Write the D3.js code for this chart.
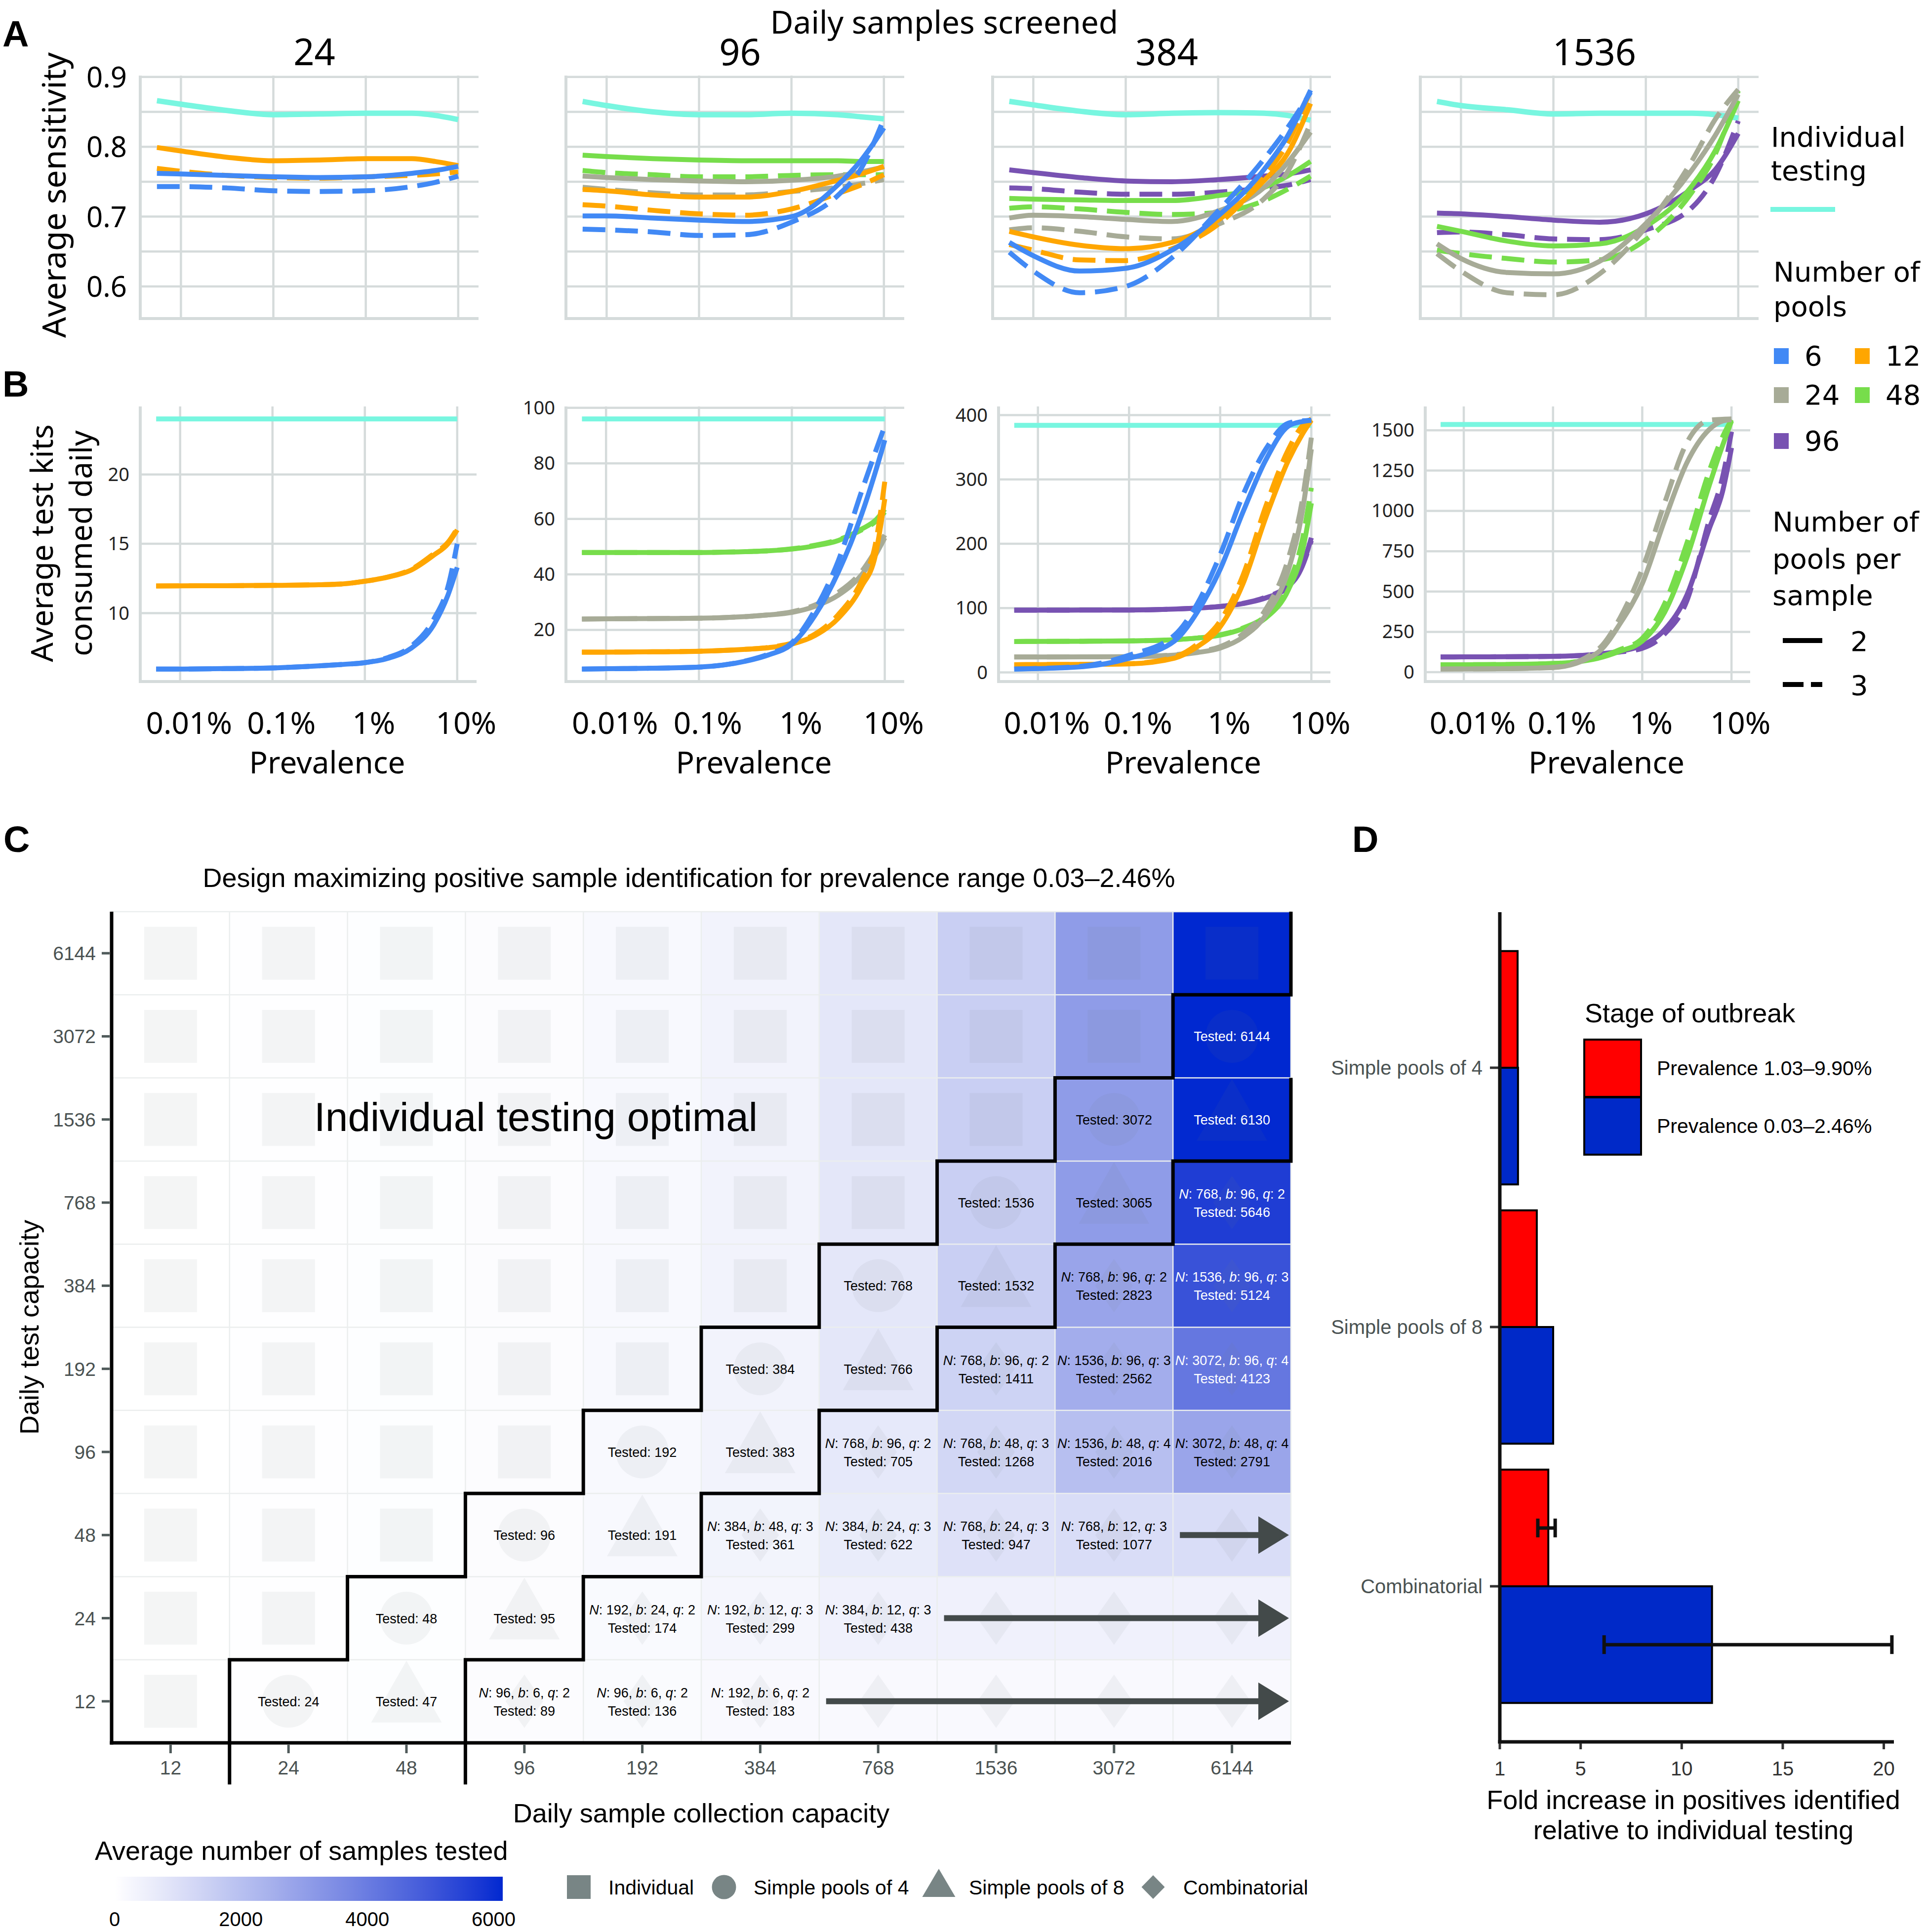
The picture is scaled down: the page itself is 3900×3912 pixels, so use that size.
<!DOCTYPE html>
<html><head><meta charset="utf-8">
<script src="https://cdn.jsdelivr.net/npm/d3@7"></script>
<style>body{margin:0;background:#fff} svg{display:block} text{white-space:pre}</style>
</head><body><svg id="c" width="3900" height="3912"></svg>
<script>
// ---------------- DATA ----------------
// Panel A/B: prevalence (%) sample points where curves were read
const prevA = [0.0055, 0.01, 0.0316, 0.1, 0.316, 1, 3.16, 5.62, 10];
const prevB = [0.0055, 0.01, 0.0316, 0.1, 0.316, 0.562, 1, 1.78, 3.16, 5.62, 7.94, 10];
const samplesScreened = [24, 96, 384, 1536];
const poolCounts = [6, 12, 24, 48, 96];
const poolsPerSample = [2, 3];
const prevTicks = [0.01, 0.1, 1, 10];
const prevTickLabels = ["0.01%", "0.1%", "1%", "10%"];
const sensTicks = [0.6, 0.7, 0.8, 0.9];
const sensMinorTicks = [0.65, 0.75, 0.85];
const kitTicks24 = [10, 15, 20];
const kitTicks96 = [20, 40, 60, 80, 100];
const kitTicks384 = [0, 100, 200, 300, 400];
const kitTicks1536 = [0, 250, 500, 750, 1000, 1250, 1500];

// Average sensitivity (panel A)
const sens24_indiv = [0.866, 0.861, 0.852, 0.846, 0.847, 0.848, 0.848, 0.845, 0.839];
const sens24_p6q2  = [0.762, 0.761, 0.759, 0.757, 0.756, 0.757, 0.762, 0.766, 0.772];
const sens24_p6q3  = [0.743, 0.743, 0.741, 0.737, 0.736, 0.737, 0.743, 0.749, 0.758];
const sens24_p12q2 = [0.799, 0.794, 0.785, 0.780, 0.781, 0.783, 0.783, 0.779, 0.773];
const sens24_p12q3 = [0.769, 0.765, 0.759, 0.756, 0.755, 0.757, 0.759, 0.761, 0.764];

const sens96_indiv = [0.865, 0.859, 0.850, 0.846, 0.846, 0.848, 0.846, 0.843, 0.840];
const sens96_p6q2  = [0.701, 0.701, 0.698, 0.695, 0.693, 0.700, 0.745, 0.780, 0.827];
const sens96_p6q3  = [0.682, 0.681, 0.678, 0.673, 0.674, 0.692, 0.730, 0.768, 0.840];
const sens96_p12q2 = [0.739, 0.737, 0.731, 0.728, 0.728, 0.736, 0.752, 0.761, 0.772];
const sens96_p12q3 = [0.717, 0.715, 0.709, 0.704, 0.702, 0.711, 0.733, 0.745, 0.760];
const sens96_p24q2 = [0.758, 0.756, 0.753, 0.751, 0.750, 0.752, 0.758, 0.764, 0.771];
const sens96_p24q3 = [0.742, 0.739, 0.734, 0.731, 0.731, 0.736, 0.742, 0.747, 0.753];
const sens96_p48q2 = [0.788, 0.786, 0.783, 0.781, 0.780, 0.780, 0.780, 0.779, 0.779];
const sens96_p48q3 = [0.766, 0.763, 0.760, 0.757, 0.757, 0.759, 0.760, 0.760, 0.760];

const sens384_indiv = [0.865, 0.860, 0.851, 0.846, 0.848, 0.849, 0.848, 0.845, 0.838];
const sens384_p6q2  = [0.663, 0.644, 0.622, 0.626, 0.652, 0.701, 0.768, 0.815, 0.881];
const sens384_p6q3  = [0.649, 0.622, 0.591, 0.600, 0.641, 0.708, 0.783, 0.827, 0.878];
const sens384_p12q2 = [0.679, 0.671, 0.659, 0.654, 0.663, 0.695, 0.752, 0.790, 0.862];
const sens384_p12q3 = [0.660, 0.652, 0.638, 0.637, 0.654, 0.689, 0.758, 0.805, 0.881];
const sens384_p24q2 = [0.698, 0.702, 0.700, 0.696, 0.693, 0.708, 0.742, 0.777, 0.821];
const sens384_p24q3 = [0.681, 0.684, 0.679, 0.671, 0.668, 0.689, 0.726, 0.764, 0.834];
const sens384_p48q2 = [0.726, 0.725, 0.724, 0.723, 0.723, 0.730, 0.742, 0.758, 0.779];
const sens384_p48q3 = [0.712, 0.714, 0.711, 0.706, 0.703, 0.706, 0.723, 0.739, 0.758];
const sens384_p96q2 = [0.767, 0.763, 0.756, 0.751, 0.750, 0.753, 0.758, 0.761, 0.767];
const sens384_p96q3 = [0.741, 0.740, 0.735, 0.732, 0.732, 0.735, 0.741, 0.745, 0.753];

const sens1536_indiv = [0.865, 0.859, 0.853, 0.847, 0.848, 0.848, 0.848, 0.846, 0.841];
const sens1536_p24q2 = [0.661, 0.640, 0.620, 0.618, 0.636, 0.690, 0.767, 0.816, 0.875];
const sens1536_p24q3 = [0.647, 0.622, 0.591, 0.588, 0.618, 0.685, 0.780, 0.839, 0.882];
const sens1536_p48q2 = [0.686, 0.679, 0.665, 0.658, 0.661, 0.686, 0.744, 0.794, 0.866];
const sens1536_p48q3 = [0.652, 0.647, 0.640, 0.635, 0.638, 0.667, 0.735, 0.789, 0.880];
const sens1536_p96q2 = [0.705, 0.704, 0.700, 0.695, 0.692, 0.704, 0.740, 0.767, 0.819];
const sens1536_p96q3 = [0.677, 0.678, 0.674, 0.668, 0.667, 0.681, 0.713, 0.758, 0.837];

// Average test kits consumed daily (panel B)
const kitsIndividual = [24, 96, 384, 1536];
const kits24_p6q2  = [5.97, 5.97, 6.0, 6.05, 6.2, 6.3, 6.43, 6.74, 7.46, 9.2, 11.3, 13.3];
const kits24_p6q3  = [5.97, 5.97, 6.0, 6.05, 6.2, 6.3, 6.43, 6.8, 7.6, 9.6, 11.9, 15.0];
const kits24_p12q2 = [11.96, 11.97, 11.98, 12.0, 12.05, 12.1, 12.3, 12.6, 13.1, 14.2, 15.0, 16.0];
const kits24_p12q3 = [11.96, 11.97, 11.98, 12.0, 12.05, 12.1, 12.3, 12.6, 13.15, 14.3, 15.1, 16.1];

const kits96_p6q2  = [5.9, 6.0, 6.2, 6.6, 8.7, 11.0, 14.9, 25.3, 40.8, 61.5, 77.0, 88.4];
const kits96_p6q3  = [5.9, 6.0, 6.2, 6.6, 8.8, 11.3, 15.4, 27.3, 44.9, 69.8, 84.2, 93.5];
const kits96_p12q2 = [12.0, 12.0, 12.1, 12.3, 13.0, 13.6, 14.9, 18.0, 24.2, 35.6, 47.0, 67.2];
const kits96_p12q3 = [12.0, 12.0, 12.1, 12.3, 13.0, 13.7, 15.2, 18.5, 25.5, 37.7, 51.0, 73.4];
const kits96_p24q2 = [23.9, 24.0, 24.1, 24.2, 24.8, 25.4, 26.3, 28.5, 32.5, 39.8, 47.0, 53.2];
const kits96_p24q3 = [23.9, 24.0, 24.1, 24.2, 24.8, 25.4, 26.5, 29.0, 33.5, 41.0, 48.5, 54.2];
const kits96_p48q2 = [47.9, 47.9, 47.9, 47.9, 48.2, 48.5, 49.1, 50.3, 52.2, 56.3, 59.5, 63.5];
const kits96_p48q3 = [47.9, 47.9, 47.9, 47.9, 48.2, 48.5, 49.2, 50.5, 52.5, 56.0, 59.0, 62.5];

const kits384_p6q2  = [5.3, 6.0, 9.0, 22.0, 49.0, 94.0, 160.4, 249.4, 330.0, 383.0, 390.0, 392.0];
const kits384_p6q3  = [5.3, 6.2, 10.0, 26.7, 58.0, 107.0, 183.0, 276.0, 347.0, 387.5, 391.0, 392.0];
const kits384_p12q2 = [12.0, 12.2, 12.6, 13.4, 22.3, 40.0, 71.0, 138.0, 240.5, 330.0, 370.0, 392.0];
const kits384_p12q3 = [12.0, 12.2, 12.6, 13.6, 24.0, 44.0, 80.0, 151.0, 258.0, 347.0, 383.0, 394.0];
const kits384_p24q2 = [24.0, 24.1, 24.2, 24.5, 27.0, 31.0, 37.9, 55.0, 89.0, 160.0, 249.0, 347.0];
const kits384_p24q3 = [24.0, 24.1, 24.2, 24.5, 27.5, 32.0, 40.0, 60.0, 98.0, 178.0, 267.0, 365.0];
const kits384_p48q2 = [48.1, 48.2, 48.5, 49.0, 51.0, 53.5, 58.0, 68.0, 84.6, 129.0, 187.0, 263.0];
const kits384_p48q3 = [48.1, 48.2, 48.5, 49.0, 51.0, 53.5, 58.5, 69.0, 88.0, 138.0, 205.0, 287.0];
const kits384_p96q2 = [96.7, 96.8, 96.9, 97.0, 98.5, 100.0, 102.5, 107.0, 115.8, 133.6, 164.8, 209.4];
const kits384_p96q3 = [96.7, 96.8, 96.9, 97.0, 98.5, 100.0, 102.5, 107.5, 117.0, 136.0, 165.0, 205.0];

const kits1536_p24q2 = [19.6, 20.0, 22.0, 28.5, 121.0, 300.0, 549.0, 942.0, 1298.0, 1504.0, 1557.0, 1566.0];
const kits1536_p24q3 = [19.6, 20.0, 22.0, 30.0, 139.0, 335.0, 639.0, 1049.0, 1423.0, 1562.0, 1568.0, 1570.0];
const kits1536_p48q2 = [46.0, 46.5, 48.0, 53.5, 85.6, 130.0, 193.0, 371.0, 710.0, 1156.0, 1405.0, 1557.0];
const kits1536_p48q3 = [46.0, 46.5, 48.0, 53.5, 90.0, 140.0, 210.0, 424.0, 799.0, 1245.0, 1459.0, 1566.0];
const kits1536_p96q2 = [94.5, 95.0, 96.0, 98.0, 112.0, 130.0, 166.0, 264.0, 478.0, 888.0, 1120.0, 1391.0];
const kits1536_p96q3 = [94.5, 95.0, 96.0, 98.0, 110.0, 125.0, 148.0, 237.0, 442.0, 942.0, 1209.0, 1491.0];

// Panel C: rows = daily test capacity, cols = daily sample collection capacity
const capacities = [12, 24, 48, 96, 192, 384, 768, 1536, 3072, 6144];
// average number of samples tested per cell (row by row, cols 12..6144)
const tested12   = [12, 24, 47, 89, 136, 183, 183, 183, 183, 183];
const tested24   = [12, 24, 48, 95, 174, 299, 438, 438, 438, 438];
const tested48   = [12, 24, 48, 96, 191, 361, 622, 947, 1077, 1077];
const tested96   = [12, 24, 48, 96, 192, 383, 705, 1268, 2016, 2791];
const tested192  = [12, 24, 48, 96, 192, 384, 766, 1411, 2562, 4123];
const tested384  = [12, 24, 48, 96, 192, 384, 768, 1532, 2823, 5124];
const tested768  = [12, 24, 48, 96, 192, 384, 768, 1536, 3065, 5646];
const tested1536 = [12, 24, 48, 96, 192, 384, 768, 1536, 3072, 6130];
const tested3072 = [12, 24, 48, 96, 192, 384, 768, 1536, 3072, 6144];
const tested6144 = [12, 24, 48, 96, 192, 384, 768, 1536, 3072, 6144];
// design: I individual, C simple pools of 4, T simple pools of 8, D combinatorial, d = continued (arrow)
const design12   = "ICTDDDdddd";
const design24   = "IICTDDDddd";
const design48   = "IIICTDDDDd";
const design96   = "IIIICTDDDD";
const design192  = "IIIIICTDDD";
const design384  = "IIIIIICTDD";
const design768  = "IIIIIIICTD";
const design1536 = "IIIIIIIICT";
const design3072 = "IIIIIIIIIC";
const design6144 = "IIIIIIIIII";
// combinatorial designs: [test capacity, collection capacity, N, b, q]
const comboDesigns = [
  [12, 96, 96, 6, 2], [12, 192, 96, 6, 2], [12, 384, 192, 6, 2],
  [24, 192, 192, 24, 2], [24, 384, 192, 12, 3], [24, 768, 384, 12, 3],
  [48, 384, 384, 48, 3], [48, 768, 384, 24, 3], [48, 1536, 768, 24, 3], [48, 3072, 768, 12, 3],
  [96, 768, 768, 96, 2], [96, 1536, 768, 48, 3], [96, 3072, 1536, 48, 4], [96, 6144, 3072, 48, 4],
  [192, 1536, 768, 96, 2], [192, 3072, 1536, 96, 3], [192, 6144, 3072, 96, 4],
  [384, 3072, 768, 96, 2], [384, 6144, 1536, 96, 3],
  [768, 6144, 768, 96, 2]
];
const colorbarTicks = [0, 2000, 4000, 6000];
const shapeLegend = ["Individual", "Simple pools of 4", "Simple pools of 8", "Combinatorial"];

// Panel D
const designTypes = ["Simple pools of 4", "Simple pools of 8", "Combinatorial"];
const stageLabels = ["Prevalence 1.03\u20139.90%", "Prevalence 0.03\u20132.46%"];
const foldHigh = [1.88, 2.83, 3.4];    // prevalence 1.03–9.90%
const foldLow  = [1.9, 3.64, 11.5];    // prevalence 0.03–2.46%
const errHigh  = [null, null, [2.88, 3.74]];
const errLow   = [null, null, [6.16, 20.4]];
const foldTicks = [1, 5, 10, 15, 20];

// ---------------- STYLE / LAYOUT ----------------
const poolColor = {6: "#4189f5", 12: "#ffa600", 24: "#a7ab97", 48: "#77dd4b", 96: "#7852b2"};
const indivColor = "#78f6e0";
const gridColor = "#d5dbdb";
const fAB = "'Noto Sans', 'DejaVu Sans', sans-serif";
const fLeg = "'DejaVu Sans', sans-serif";
const fCD = "'Liberation Sans', Arial, sans-serif";

const svg = d3.select("#c");
svg.append("rect").attr("width", 3900).attr("height", 3912).attr("fill", "#fff");

function txt(g, x, y, s, size, o = {}) {
  return g.append("text").attr("x", x).attr("y", y)
    .attr("font-family", o.family || fCD).attr("font-size", size)
    .attr("fill", o.fill || "#000").attr("text-anchor", o.anchor || "start")
    .attr("font-weight", o.weight || "normal").text(s);
}
function multi(g, x, y, lines, size, dy, o = {}) {
  const t = g.append("text").attr("x", x).attr("y", y)
    .attr("font-family", o.family || fCD).attr("font-size", size).attr("fill", "#000")
    .attr("text-anchor", o.anchor || "start");
  lines.forEach((s, k) => t.append("tspan").attr("x", x).attr("dy", k === 0 ? 0 : dy).text(s));
  return t;
}

// panel letters
txt(svg, 5, 94, "A", 74, {weight: "bold"});
txt(svg, 5, 803, "B", 74, {weight: "bold"});
txt(svg, 7, 1725, "C", 74, {weight: "bold"});
txt(svg, 2738, 1725, "D", 74, {weight: "bold"});

// ---------------- PANEL A ----------------
const sensTable = {
  24: [["indiv", 0, sens24_indiv], [12, 3, sens24_p12q3], [12, 2, sens24_p12q2], [6, 3, sens24_p6q3], [6, 2, sens24_p6q2]],
  96: [["indiv", 0, sens96_indiv], [48, 3, sens96_p48q3], [48, 2, sens96_p48q2], [24, 3, sens96_p24q3], [24, 2, sens96_p24q2],
       [12, 3, sens96_p12q3], [12, 2, sens96_p12q2], [6, 3, sens96_p6q3], [6, 2, sens96_p6q2]],
  384: [["indiv", 0, sens384_indiv], [96, 3, sens384_p96q3], [96, 2, sens384_p96q2], [48, 3, sens384_p48q3], [48, 2, sens384_p48q2],
        [24, 3, sens384_p24q3], [24, 2, sens384_p24q2], [12, 3, sens384_p12q3], [12, 2, sens384_p12q2], [6, 3, sens384_p6q3], [6, 2, sens384_p6q2]],
  1536: [["indiv", 0, sens1536_indiv], [96, 3, sens1536_p96q3], [96, 2, sens1536_p96q2], [48, 3, sens1536_p48q3], [48, 2, sens1536_p48q2],
         [24, 3, sens1536_p24q3], [24, 2, sens1536_p24q2]]
};
const kitsTable = {
  24: [[12, 3, kits24_p12q3], [12, 2, kits24_p12q2], [6, 3, kits24_p6q3], [6, 2, kits24_p6q2]],
  96: [[48, 3, kits96_p48q3], [48, 2, kits96_p48q2], [24, 3, kits96_p24q3], [24, 2, kits96_p24q2],
       [12, 3, kits96_p12q3], [12, 2, kits96_p12q2], [6, 3, kits96_p6q3], [6, 2, kits96_p6q2]],
  384: [[96, 3, kits384_p96q3], [96, 2, kits384_p96q2], [48, 3, kits384_p48q3], [48, 2, kits384_p48q2],
        [24, 3, kits384_p24q3], [24, 2, kits384_p24q2], [12, 3, kits384_p12q3], [12, 2, kits384_p12q2], [6, 3, kits384_p6q3], [6, 2, kits384_p6q2]],
  1536: [[96, 3, kits1536_p96q3], [96, 2, kits1536_p96q2], [48, 3, kits1536_p48q3], [48, 2, kits1536_p48q2],
         [24, 3, kits1536_p24q3], [24, 2, kits1536_p24q2]]
};
const kitTicks = {24: kitTicks24, 96: kitTicks96, 384: kitTicks384, 1536: kitTicks1536};

const aLeft = [284, 1146, 2010, 2876], aWidth = 685, aTop = 153, aBot = 645;
const bLeft = [284, 1146, 2022, 2886], bWidth = [681, 685, 672, 658], bTop = 823, bBot = 1380;

function lineStyle(p, grp, q) {
  p.attr("fill", "none").attr("stroke", grp === "indiv" ? indivColor : poolColor[grp])
   .attr("stroke-width", 10).attr("stroke-linecap", "butt").attr("stroke-linejoin", "round");
  if (q === 3) p.attr("stroke-dasharray", "46,20");
}

txt(svg, 1912, 68, "Daily samples screened", 64, {family: fAB, anchor: "middle"});
svg.append("text").attr("transform", "translate(133,395) rotate(-90)").attr("text-anchor", "middle")
  .attr("font-family", fAB).attr("font-size", 66).text("Average sensitivity");

samplesScreened.forEach((n, i) => {
  const g = svg.append("g");
  const x = d3.scaleLog().domain([0.00363, 16.6]).range([aLeft[i], aLeft[i] + aWidth]);
  const y = d3.scaleLinear().domain([0.554, 0.902]).range([aBot, aTop]);
  sensTicks.concat(sensMinorTicks).forEach(t => g.append("line").attr("x1", aLeft[i]).attr("x2", aLeft[i] + aWidth)
    .attr("y1", y(t)).attr("y2", y(t)).attr("stroke", gridColor).attr("stroke-width", 4.5));
  prevTicks.forEach(t => g.append("line").attr("x1", x(t)).attr("x2", x(t)).attr("y1", aTop).attr("y2", aBot)
    .attr("stroke", gridColor).attr("stroke-width", 4.5));
  g.append("line").attr("x1", aLeft[i]).attr("x2", aLeft[i]).attr("y1", aTop).attr("y2", aBot).attr("stroke", gridColor).attr("stroke-width", 6);
  g.append("line").attr("x1", aLeft[i] - 3).attr("x2", aLeft[i] + aWidth).attr("y1", aBot).attr("y2", aBot).attr("stroke", gridColor).attr("stroke-width", 6);
  if (i === 0) sensTicks.forEach(t => txt(g, 257, y(t) + 21, t.toFixed(1), 58, {family: fAB, anchor: "end"}));
  txt(g, aLeft[i] + aWidth / 2 + 10, 132, String(n), 74, {family: fAB, anchor: "middle"});
  const line = d3.line().x((d, k) => x(prevA[k])).y(d => y(d)).curve(d3.curveMonotoneX);
  sensTable[n].forEach(([grp, q, vals]) => {
    const p = g.append("path").attr("d", line(vals));
    lineStyle(p, grp, q);
    if (grp === "indiv") p.attr("stroke-width", 11);
  });
});

// ---------------- PANEL B ----------------
{
  const t = svg.append("text").attr("transform", "translate(0,1100) rotate(-90)").attr("text-anchor", "middle")
    .attr("font-family", fAB).attr("font-size", 62);
  t.append("tspan").attr("x", 0).attr("y", 107).text("Average test kits");
  t.append("tspan").attr("x", 0).attr("y", 186).text("consumed daily");
}

samplesScreened.forEach((n, i) => {
  const g = svg.append("g");
  const L = bLeft[i], W = bWidth[i];
  const x = d3.scaleLog().domain([0.0037, 16.2]).range([L, L + W]);
  const vals = kitsTable[n].flatMap(s => s[2]).concat([kitsIndividual[i]]);
  const [mn, mx] = d3.extent(vals), pad = (mx - mn) * 0.05;
  const y = d3.scaleLinear().domain([mn - pad, mx + pad]).range([bBot, bTop]);
  kitTicks[n].forEach(t => g.append("line").attr("x1", L).attr("x2", L + W).attr("y1", y(t)).attr("y2", y(t))
    .attr("stroke", gridColor).attr("stroke-width", 4.5));
  prevTicks.forEach(t => g.append("line").attr("x1", x(t)).attr("x2", x(t)).attr("y1", bTop).attr("y2", bBot)
    .attr("stroke", gridColor).attr("stroke-width", 4.5));
  g.append("line").attr("x1", L).attr("x2", L).attr("y1", bTop).attr("y2", bBot).attr("stroke", gridColor).attr("stroke-width", 6);
  g.append("line").attr("x1", L - 3).attr("x2", L + W).attr("y1", bBot).attr("y2", bBot).attr("stroke", gridColor).attr("stroke-width", 6);
  kitTicks[n].forEach(t => txt(g, L - 22, y(t) + 13, String(t), 38, {family: fAB, anchor: "end", fill: "#222"}));
  prevTicks.forEach((t, k) => txt(g, x(t) + 18, 1486, prevTickLabels[k], 62, {family: fAB, anchor: "middle"}));
  txt(g, L + W / 2 + 38, 1566, "Prevalence", 62, {family: fAB, anchor: "middle"});
  const line = d3.line().x((d, k) => x(prevB[k])).y(d => y(d)).curve(d3.curveMonotoneX);
  const ip = g.append("path").attr("d", line(prevB.map(() => kitsIndividual[i])));
  lineStyle(ip, "indiv", 2);
  kitsTable[n].forEach(([grp, q, v]) => lineStyle(g.append("path").attr("d", line(v)), grp, q));
});

// ---------------- LEGEND A/B ----------------
{
  const g = svg.append("g");
  multi(g, 3586, 297, ["Individual", "testing"], 56, 68, {family: fLeg});
  g.append("line").attr("x1", 3585).attr("x2", 3716).attr("y1", 424).attr("y2", 424).attr("stroke", indivColor).attr("stroke-width", 10);
  multi(g, 3591, 570, ["Number of", "pools"], 56, 70, {family: fLeg});
  const keyPos = [[3592, 705], [3756, 705], [3592, 784], [3756, 784], [3592, 877]];
  poolCounts.forEach((p, k) => {
    const [kx, ky] = keyPos[k];
    g.append("rect").attr("x", kx).attr("y", ky).attr("width", 30).attr("height", 32).attr("fill", poolColor[p]);
    txt(g, kx + 62, ky + 35, String(p), 56, {family: fLeg});
  });
  multi(g, 3589, 1076, ["Number of", "pools per", "sample"], 56, 74.5, {family: fLeg});
  poolsPerSample.forEach((q, k) => {
    const yy = 1297 + k * 89;
    const l = g.append("line").attr("x1", 3610).attr("x2", 3690).attr("y1", yy).attr("y2", yy)
      .attr("stroke", "#000").attr("stroke-width", 10);
    if (q === 3) l.attr("stroke-dasharray", "42,15");
    txt(g, 3747, yy + 21, String(q), 56, {family: fLeg});
  });
}

// ---------------- PANEL C ----------------
const testedRows = {12: tested12, 24: tested24, 48: tested48, 96: tested96, 192: tested192, 384: tested384,
  768: tested768, 1536: tested1536, 3072: tested3072, 6144: tested6144};
const designRows = {12: design12, 24: design24, 48: design48, 96: design96, 192: design192, 384: design384,
  768: design768, 1536: design1536, 3072: design3072, 6144: design6144};

const cLeft = 226, cTop = 1846, cW = 2388, cH = 1683;
const xC = d3.scaleBand().domain(capacities).range([cLeft, cLeft + cW]);
const yC = d3.scaleBand().domain(capacities.slice().reverse()).range([cTop, cTop + cH]);
const bw = xC.bandwidth(), bh = yC.bandwidth();
const fillC = d3.scaleLinear().domain([0, 6144]).range(["#ffffff", "#0028d0"]).interpolate(d3.interpolateRgb.gamma(1.2));
const shapeCol = "#788585";

{
  const g = svg.append("g");
  txt(g, 1395, 1796, "Design maximizing positive sample identification for prevalence range 0.03\u20132.46%", 54, {anchor: "middle"});
  // tiles
  capacities.forEach(r => capacities.forEach((c, ci) => {
    g.append("rect").attr("x", xC(c)).attr("y", yC(r)).attr("width", bw + 0.5).attr("height", bh + 0.5)
      .attr("fill", fillC(testedRows[r][ci]));
  }));
  // cell grid
  d3.range(11).forEach(k => {
    g.append("line").attr("x1", cLeft + k * bw).attr("x2", cLeft + k * bw).attr("y1", cTop).attr("y2", cTop + cH)
      .attr("stroke", "#ebeeee").attr("stroke-width", 2.5);
    g.append("line").attr("y1", cTop + k * bh).attr("y2", cTop + k * bh).attr("x1", cLeft).attr("x2", cLeft + cW)
      .attr("stroke", "#ebeeee").attr("stroke-width", 2.5);
  });
  // shapes
  function shape(gg, kind, cx, cy, s) {
    let el;
    if (kind === "I") el = gg.append("rect").attr("x", cx - 53.5 * s).attr("y", cy - 53.5 * s).attr("width", 107 * s).attr("height", 107 * s);
    else if (kind === "C") el = gg.append("circle").attr("cx", cx).attr("cy", cy).attr("r", 53.5 * s);
    else if (kind === "T") el = gg.append("path").attr("d", `M${cx},${cy - 82 * s}L${cx + 71.5 * s},${cy + 43 * s}L${cx - 71.5 * s},${cy + 43 * s}Z`);
    else el = gg.append("path").attr("d", `M${cx},${cy - 54 * s}L${cx + 38 * s},${cy}L${cx},${cy + 54 * s}L${cx - 38 * s},${cy}Z`);
    return el;
  }
  capacities.forEach(r => capacities.forEach((c, ci) => {
    const kind = designRows[r][ci].toUpperCase();
    shape(g, kind, xC(c) + bw / 2, yC(r) + bh / 2, 1).attr("fill", shapeCol).attr("fill-opacity", 0.08);
  }));
  // texts
  capacities.forEach(r => capacities.forEach((c, ci) => {
    const d = designRows[r][ci], v = testedRows[r][ci];
    const cx = xC(c) + bw / 2, cy = yC(r) + bh / 2;
    const col = v > 4000 ? "#fff" : "#000";
    if (d === "C" || d === "T") txt(g, cx, cy + 10, "Tested: " + v, 27, {anchor: "middle", fill: col});
    if (d === "D") {
      const cd = comboDesigns.find(e => e[0] === r && e[1] === c);
      const t = g.append("text").attr("x", cx).attr("y", cy - 8).attr("text-anchor", "middle")
        .attr("font-family", fCD).attr("font-size", 27).attr("fill", col);
      [["N", 1], [": " + cd[2] + ", ", 0], ["b", 1], [": " + cd[3] + ", ", 0], ["q", 1], [": " + cd[4], 0]]
        .forEach(([s, it]) => t.append("tspan").attr("font-style", it ? "italic" : "normal").text(s));
      txt(g, cx, cy + 29, "Tested: " + v, 27, {anchor: "middle", fill: col});
    }
  }));
  // arrows for continued combinatorial rows
  capacities.forEach(r => {
    const ds = designRows[r];
    const k = ds.indexOf("d");
    if (k < 0) return;
    const cy = yC(r) + bh / 2;
    const x0 = xC(capacities[k]) + 14, x1 = cLeft + cW - 4;
    g.append("line").attr("x1", x0).attr("x2", x1 - 55).attr("y1", cy).attr("y2", cy).attr("stroke", "#434a4a").attr("stroke-width", 12);
    g.append("path").attr("d", `M${x1 - 62},${cy - 38}L${x1},${cy}L${x1 - 62},${cy + 38}Z`).attr("fill", "#434a4a");
  });
  // "Individual testing optimal"
  txt(g, 1085, 2290, "Individual testing optimal", 82, {anchor: "middle"});
  // boundary lines
  const rowsTop = capacities.slice().reverse();
  let pInd = "", first = true;
  rowsTop.forEach((r, k) => {
    const nI = designRows[r].split("").filter(ch => ch === "I").length;
    const xx = cLeft + nI * bw, y0 = yC(r), y1 = yC(r) + bh + (k === rowsTop.length - 1 ? bh / 2 : 0);
    pInd += (first ? `M${xx},${y0}` : `H${xx}`) + `V${y1}`;
    first = false;
  });
  g.append("path").attr("d", pInd).attr("fill", "none").attr("stroke", "#000").attr("stroke-width", 7);
  let pCmb = ""; first = true;
  rowsTop.forEach((r, k) => {
    const ds = designRows[r];
    let idx = ds.search(/[Dd]/);
    if (idx < 0) { if (ds.indexOf("T") < 0) return; idx = ds.indexOf("T") + 1; }
    const xx = cLeft + idx * bw, y0 = yC(r), y1 = yC(r) + bh + (k === rowsTop.length - 1 ? bh / 2 : 0);
    pCmb += (first ? `M${xx},${y0}` : `H${xx}`) + `V${y1}`;
    first = false;
  });
  g.append("path").attr("d", pCmb).attr("fill", "none").attr("stroke", "#000").attr("stroke-width", 7);
  // axes
  g.append("line").attr("x1", cLeft).attr("x2", cLeft).attr("y1", cTop).attr("y2", cTop + cH + 3.5).attr("stroke", "#000").attr("stroke-width", 7);
  g.append("line").attr("x1", cLeft - 3.5).attr("x2", cLeft + cW).attr("y1", cTop + cH).attr("y2", cTop + cH).attr("stroke", "#000").attr("stroke-width", 7);
  capacities.forEach(c => {
    const cy = yC(c) + bh / 2, cx = xC(c) + bw / 2;
    g.append("line").attr("x1", cLeft - 20).attr("x2", cLeft - 4).attr("y1", cy).attr("y2", cy).attr("stroke", "#4f5a5a").attr("stroke-width", 5);
    txt(g, cLeft - 32, cy + 14, String(c), 39, {anchor: "end", fill: "#4a5252"});
    g.append("line").attr("x1", cx).attr("x2", cx).attr("y1", cTop + cH + 4).attr("y2", cTop + cH + 21).attr("stroke", "#4f5a5a").attr("stroke-width", 5);
    txt(g, cx, 3593, String(c), 39, {anchor: "middle", fill: "#4a5252"});
  });
  txt(g, 1420, 3690, "Daily sample collection capacity", 54, {anchor: "middle"});
  g.append("text").attr("transform", `translate(78,${cTop + cH / 2}) rotate(-90)`).attr("text-anchor", "middle")
    .attr("font-family", fCD).attr("font-size", 54).text("Daily test capacity");

  // colourbar legend
  txt(g, 192, 3766, "Average number of samples tested", 54);
  const grad = svg.append("defs").append("linearGradient").attr("id", "cbar");
  d3.range(0, 1.0001, 0.05).forEach(t => grad.append("stop").attr("offset", t).attr("stop-color", fillC(t * 6144)));
  const xBar = d3.scaleLinear().domain([0, 6144]).range([232, 1018]);
  g.append("rect").attr("x", xBar(0)).attr("y", 3800).attr("width", xBar(6144) - xBar(0)).attr("height", 49).attr("fill", "url(#cbar)");
  colorbarTicks.forEach(t => txt(g, xBar(t), 3900, String(t), 40, {anchor: "middle"}));

  // shape legend
  const sx = [1172, 1466, 1901, 2335], lx = [1232, 1526, 1962, 2396], sy = 3821;
  ["I", "C", "T", "D"].forEach((k, i) => {
    let el;
    if (k === "I") el = g.append("rect").attr("x", sx[i] - 24).attr("y", sy - 24).attr("width", 48).attr("height", 48);
    else if (k === "C") el = g.append("circle").attr("cx", sx[i]).attr("cy", sy).attr("r", 24.5);
    else if (k === "T") el = g.append("path").attr("d", `M${sx[i]},${sy - 37}L${sx[i] + 33.5},${sy + 20}L${sx[i] - 33.5},${sy + 20}Z`);
    else el = g.append("path").attr("d", `M${sx[i]},${sy - 24}L${sx[i] + 23.5},${sy}L${sx[i]},${sy + 24}L${sx[i] - 23.5},${sy}Z`);
    el.attr("fill", shapeCol);
    txt(g, lx[i], sy + 15, shapeLegend[i], 41);
  });
}

// ---------------- PANEL D ----------------
{
  const g = svg.append("g");
  const yD = d3.scalePoint().domain(designTypes).range([1847, 3527]).padding(0.6);
  const xD = d3.scaleLinear().domain([1, 20.5]).range([3037, 3835]);
  const barH = yD.step() * 0.45;
  const red = "#ff0000", blue = "#0029c8";
  designTypes.forEach((dt, i) => {
    const cy = yD(dt);
    g.append("rect").attr("x", xD(1)).attr("y", cy - barH).attr("width", xD(foldHigh[i]) - xD(1)).attr("height", barH)
      .attr("fill", red).attr("stroke", "#000").attr("stroke-width", 4);
    g.append("rect").attr("x", xD(1)).attr("y", cy).attr("width", xD(foldLow[i]) - xD(1)).attr("height", barH)
      .attr("fill", blue).attr("stroke", "#000").attr("stroke-width", 4);
    [[errHigh[i], cy - barH / 2], [errLow[i], cy + barH / 2]].forEach(([e, ey]) => {
      if (!e) return;
      g.append("line").attr("x1", xD(e[0])).attr("x2", xD(e[1])).attr("y1", ey).attr("y2", ey).attr("stroke", "#111").attr("stroke-width", 7);
      e.forEach(v => g.append("line").attr("x1", xD(v)).attr("x2", xD(v)).attr("y1", ey - 19).attr("y2", ey + 19).attr("stroke", "#111").attr("stroke-width", 7));
    });
    g.append("line").attr("x1", 3017).attr("x2", 3035).attr("y1", cy).attr("y2", cy).attr("stroke", "#333").attr("stroke-width", 5);
    txt(g, 3002, cy + 14, dt, 40, {anchor: "end", fill: "#4a5252"});
  });
  g.append("line").attr("x1", xD(1)).attr("x2", xD(1)).attr("y1", 1847).attr("y2", 3530.5).attr("stroke", "#111").attr("stroke-width", 7);
  g.append("line").attr("x1", xD(1) - 3.5).attr("x2", 3835).attr("y1", 3527).attr("y2", 3527).attr("stroke", "#111").attr("stroke-width", 7);
  foldTicks.forEach(t => {
    g.append("line").attr("x1", xD(t)).attr("x2", xD(t)).attr("y1", 3530).attr("y2", 3542).attr("stroke", "#333").attr("stroke-width", 5);
    txt(g, xD(t), 3595, String(t), 40, {anchor: "middle", fill: "#333"});
  });
  multi(g, 3429, 3663, ["Fold increase in positives identified", "relative to individual testing"], 54, 61, {anchor: "middle"});
  // legend
  txt(g, 3209, 2070, "Stage of outbreak", 54);
  [[red, 2105], [blue, 2222]].forEach(([c, yy], k) => {
    g.append("rect").attr("x", 3208).attr("y", yy).attr("width", 115).attr("height", 116).attr("fill", c).attr("stroke", "#000").attr("stroke-width", 4);
    txt(g, 3355, yy + 72, stageLabels[k], 41);
  });
}
</script></body></html>
